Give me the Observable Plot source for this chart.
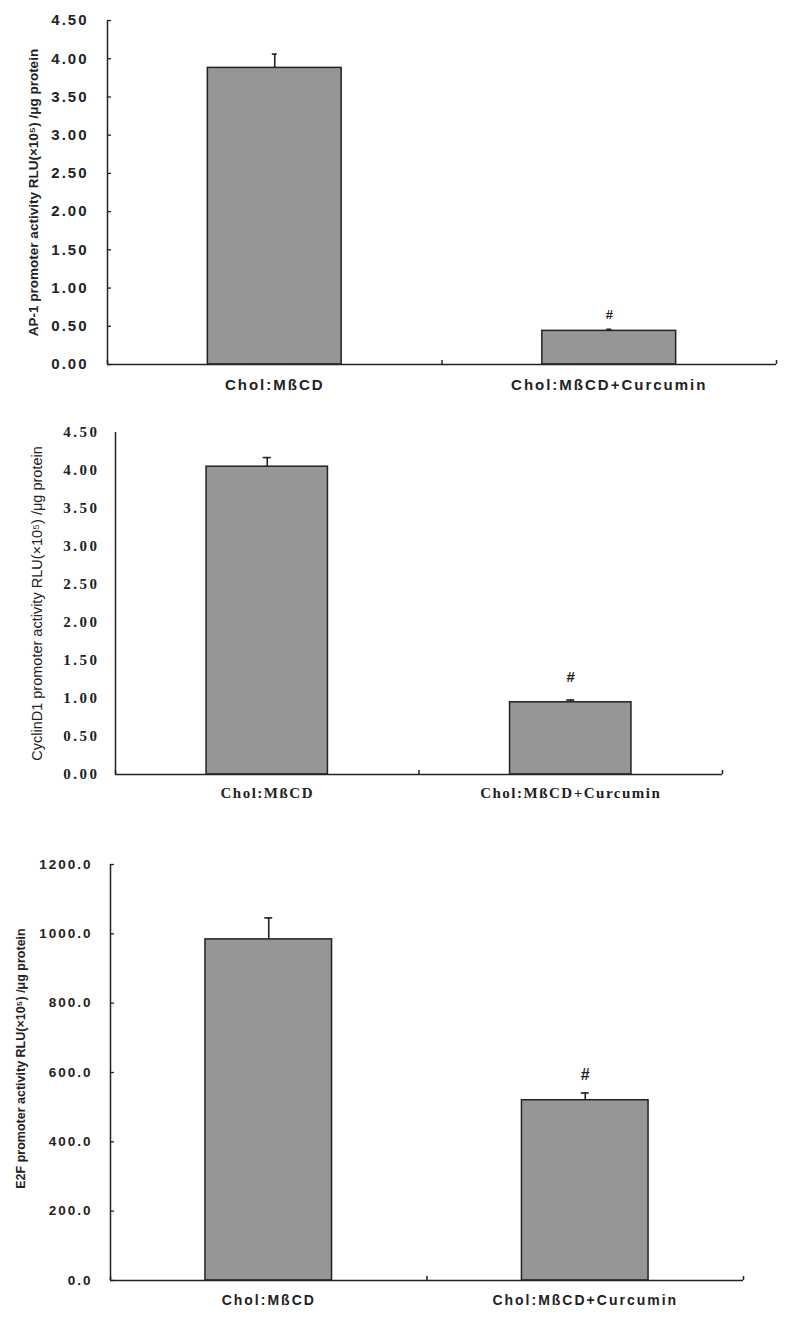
<!DOCTYPE html>
<html>
<head>
<meta charset="utf-8">
<script src="https://cdn.jsdelivr.net/npm/d3@7"></script>
<script src="https://cdn.jsdelivr.net/npm/@observablehq/plot@0.6"></script>
<style>
  html, body { margin: 0; padding: 0; background: #fff; }
  #chart svg { display: block; }
</style>
</head>
<body>
<div id="chart"></div>
<script>
// ---------- data ----------
const categories = ["Chol:MßCD", "Chol:MßCD+Curcumin"];
const significance = ["", "#"];

const ap1Means = [3.88, 0.44];
const ap1Errors = [0.18, 0.02];
const ap1Ticks = [0, 0.5, 1.0, 1.5, 2.0, 2.5, 3.0, 3.5, 4.0, 4.5];
const ap1Label = "AP-1 promoter activity RLU(×10⁵) /μg protein";

const cyclinMeans = [4.05, 0.95];
const cyclinErrors = [0.12, 0.03];
const cyclinTicks = [0, 0.5, 1.0, 1.5, 2.0, 2.5, 3.0, 3.5, 4.0, 4.5];
const cyclinLabel = "CyclinD1 promoter activity RLU(×10⁵) /μg protein";

const e2fMeans = [984, 520];
const e2fErrors = [62, 21];
const e2fTicks = [0, 200, 400, 600, 800, 1000, 1200];
const e2fLabel = "E2F promoter activity RLU(×10⁵) /μg protein";

const categoryBounds = [-0.5, 0.5, 1.5];

// ---------- panel builder ----------
function panel(cfg) {
  const rows = categories.map((c, i) => ({
    idx: i, category: c, mean: cfg.means[i], se: cfg.errors[i], sig: significance[i]
  }));
  const ink = "#222";
  const marks = [
    Plot.rectY(rows, {x1: d => d.idx - 0.2, x2: d => d.idx + 0.2, y: "mean",
      fill: "#969696", stroke: ink, strokeWidth: 1.5}),
    Plot.ruleX(rows, {x: "idx", y1: "mean", y2: d => d.mean + d.se, stroke: ink, strokeWidth: 1.6}),
    Plot.ruleY(rows, {y: d => d.mean + d.se, x1: "idx", x2: "idx",
      insetLeft: -cfg.cap, insetRight: -cfg.cap, stroke: ink, strokeWidth: 1.6}),
    Plot.text(rows, {x: "idx", y: d => d.mean + d.se, text: "sig", dy: cfg.sigDy,
      fontSize: cfg.sigSize, fontWeight: "bold", fill: ink}),
    Plot.ruleX([categoryBounds[0]], {x: d => d, stroke: ink, strokeWidth: 1.5}),
    Plot.ruleY([0], {y: d => d, stroke: ink, strokeWidth: 1.5}),
    Plot.ruleX(categoryBounds, {x: d => d, y1: 0, y2: 0, insetBottom: 4, stroke: ink, strokeWidth: 1.5}),
    Plot.axisY({ticks: cfg.ticks, tickSize: 0, tickPadding: cfg.yPad, tickFormat: cfg.fmt,
      fontSize: cfg.tickSize, fontWeight: "bold", fontFamily: cfg.tickFont, fill: ink, label: null}),
    Plot.axisX({ticks: [0, 1], tickSize: 0, tickPadding: cfg.xPad, tickFormat: i => categories[i],
      fontSize: cfg.catSize, fontWeight: "bold", fontFamily: cfg.tickFont, fill: ink, label: null}),
    Plot.text([cfg.label], {text: d => d, frameAnchor: "left", textAnchor: "middle", rotate: -90,
      dx: cfg.labelDx, dy: cfg.labelDy,
      fontSize: cfg.labelSize, fontWeight: cfg.labelWeight, fontFamily: cfg.labelFont, fill: ink})
  ];
  if (cfg.yTicks) {
    marks.push(Plot.ruleY(cfg.ticks, {y: d => d, x1: categoryBounds[0], x2: categoryBounds[0],
      insetRight: -4, stroke: ink, strokeWidth: 1.3}));
  }
  const svg = Plot.plot({
    width: 800, height: cfg.height,
    marginTop: cfg.mt, marginRight: cfg.mr, marginBottom: cfg.mb, marginLeft: cfg.ml,
    x: {type: "linear", domain: [categoryBounds[0], categoryBounds[2]], axis: null},
    y: {domain: cfg.domain, axis: null},
    style: {background: "#fff", fontFamily: "'Liberation Sans', Arial, sans-serif", overflow: "visible"},
    marks
  });
  d3.select(svg).selectAll("g[aria-label='y-axis tick label'] text").style("letter-spacing", cfg.yLs + "px");
  d3.select(svg).selectAll("g[aria-label='x-axis tick label'] text").style("letter-spacing", cfg.xLs + "px");
  return svg;
}

const sans = "'Liberation Sans', Arial, sans-serif";
const serif = "'Liberation Serif', 'Times New Roman', serif";
const root = document.getElementById("chart");

root.appendChild(panel({
  means: ap1Means, errors: ap1Errors, ticks: ap1Ticks, domain: [0, 4.5], fmt: d => d.toFixed(2),
  label: ap1Label, height: 410, mt: 20, mr: 24, mb: 46, ml: 107,
  yPad: 19, xPad: 15, tickSize: 15, catSize: 15, tickFont: sans, yLs: 2, xLs: 2,
  labelDx: -74, labelDy: 0, labelSize: 13.5, labelWeight: "bold", labelFont: sans,
  cap: 2.5, sigDy: -15, sigSize: 13, yTicks: true
}));

root.appendChild(panel({
  means: cyclinMeans, errors: cyclinErrors, ticks: cyclinTicks, domain: [0, 4.5], fmt: d => d.toFixed(2),
  label: cyclinLabel, height: 420, mt: 22, mr: 78, mb: 56, ml: 115,
  yPad: 16, xPad: 13, tickSize: 15, catSize: 15, tickFont: serif, yLs: 2.5, xLs: 1.5,
  labelDx: -78, labelDy: 0, labelSize: 14.5, labelWeight: "normal", labelFont: sans,
  cap: 4, sigDy: -23, sigSize: 15, yTicks: false
}));

root.appendChild(panel({
  means: e2fMeans, errors: e2fErrors, ticks: e2fTicks, domain: [0, 1200], fmt: d => d.toFixed(1),
  label: e2fLabel, height: 493, mt: 34, mr: 57, mb: 43, ml: 110,
  yPad: 18, xPad: 15, tickSize: 13.5, catSize: 14, tickFont: sans, yLs: 2, xLs: 2,
  labelDx: -90, labelDy: -14, labelSize: 12.5, labelWeight: "bold", labelFont: sans,
  cap: 4, sigDy: -18, sigSize: 16, yTicks: true
}));
</script>
</body>
</html>
